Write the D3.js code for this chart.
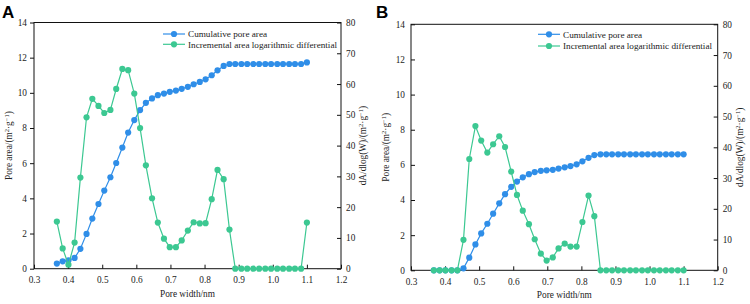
<!DOCTYPE html>
<html><head><meta charset="utf-8">
<script src="https://cdn.jsdelivr.net/npm/d3@7"></script>
<style>
html,body{margin:0;padding:0;background:#fff;}
svg{display:block;}
text{font-family:"Liberation Serif","Times New Roman",serif;fill:#222;}
text.plabel{font-family:"Liberation Sans",Arial,sans-serif;font-weight:bold;fill:#000;}
</style></head>
<body>
<svg id="chart" width="750" height="304"></svg>
<script>
const poreWidth = [0.367,0.384,0.401,0.419,0.436,0.454,0.471,0.489,0.506,0.524,0.541,0.559,0.576,0.594,0.611,0.628,0.646,0.663,0.681,0.698,0.716,0.733,0.751,0.768,0.786,0.803,0.821,0.838,0.856,0.873,0.890,0.908,0.925,0.943,0.960,0.978,0.995,1.013,1.030,1.048,1.065,1.083,1.100];

const cumulativeA = [0.29,0.42,0.48,0.61,1.13,1.98,2.85,3.68,4.44,5.2,6.01,6.89,7.74,8.45,9.02,9.43,9.68,9.87,9.96,10.06,10.13,10.23,10.34,10.49,10.62,10.77,11.0,11.28,11.53,11.64,11.64,11.64,11.64,11.64,11.64,11.64,11.64,11.64,11.64,11.64,11.64,11.64,11.73];
const incrementalA = [15.3,6.6,1.3,8.5,29.6,49.2,55.2,52.9,50.6,51.6,58.4,64.9,64.5,56.9,45.7,33.6,22.9,15.0,9.75,7.0,7.0,9.2,12.4,15.1,14.7,14.8,22.6,32.1,29.1,12.7,0,0,0,0,0,0,0,0,0,0,0,0,15.0];

const cumulativeB = [0,0,0,0,0,0.11,0.72,1.47,2.1,2.65,3.22,3.81,4.33,4.75,5.05,5.29,5.47,5.59,5.66,5.69,5.72,5.79,5.86,5.93,6.03,6.2,6.4,6.56,6.6,6.6,6.6,6.6,6.6,6.6,6.6,6.6,6.6,6.6,6.6,6.6,6.6,6.6,6.6];
const incrementalB = [0,0,0,0,0,9.9,36.2,46.9,42.2,38.3,41.0,43.6,40.1,32.1,24.5,19.4,15.0,10.1,5.4,3.15,4.2,7.1,8.7,7.7,7.7,15.7,24.3,17.6,0,0,0,0,0,0,0,0,0,0,0,0,0,0,0];

const xTicks = [0.3,0.4,0.5,0.6,0.7,0.8,0.9,1.0,1.1,1.2];
const leftTicks = [0,2,4,6,8,10,12,14];
const rightTicks = [0,10,20,30,40,50,60,70,80];
const seriesNames = ["Cumulative pore area","Incremental area logarithmic differential"];
const panelLabels = ["A","B"];

const BLUE = "#2f8ee8", GREEN = "#3cc892";
const svg = d3.select("#chart");
const FS = 9.3;

function panel(cfg, cum, inc, label){
  const g = svg.append("g");
  const x = d3.scaleLinear().domain([0.3,1.2]).range([cfg.left,cfg.right]);
  const yL = d3.scaleLinear().domain([0,14]).range([cfg.bottom,cfg.top]);
  const yR = d3.scaleLinear().domain([0,80]).range([cfg.bottom,cfg.top]);

  g.append("rect").attr("x",cfg.left).attr("y",cfg.top)
    .attr("width",cfg.right-cfg.left).attr("height",cfg.bottom-cfg.top)
    .attr("fill","none").attr("stroke","#111").attr("stroke-width",1);

  const xa = g.append("g").attr("transform",`translate(0,${cfg.bottom})`)
    .call(d3.axisBottom(x).tickValues(xTicks).tickFormat(d3.format(".1f")).tickSizeInner(-4).tickSizeOuter(0).tickPadding(8));
  xa.select(".domain").remove();
  xa.selectAll("text").attr("font-size",FS).attr("fill","#222");
  xa.selectAll("line").attr("stroke","#111");

  const la = g.append("g").attr("transform",`translate(${cfg.left},0)`)
    .call(d3.axisLeft(yL).tickValues(leftTicks).tickSizeInner(cfg.leftTickIn? -4 : 4).tickSizeOuter(0).tickPadding(cfg.leftTickIn? 6 : 3));
  la.select(".domain").remove();
  la.selectAll("text").attr("font-size",FS).attr("fill","#222");
  la.selectAll("line").attr("stroke","#111");

  const ra = g.append("g").attr("transform",`translate(${cfg.right},0)`)
    .call(d3.axisRight(yR).tickValues(rightTicks).tickSizeInner(-4).tickSizeOuter(0).tickPadding(5));
  ra.select(".domain").remove();
  ra.selectAll("text").attr("font-size",FS).attr("fill","#222");
  ra.selectAll("line").attr("stroke","#111");

  const midY = (cfg.top+cfg.bottom)/2;
  g.append("text").attr("x",(cfg.left+cfg.right)/2).attr("y",cfg.bottom+28)
    .attr("text-anchor","middle").attr("font-size",FS).text("Pore width/nm");
  const lt = g.append("text").attr("transform",`translate(${cfg.leftTitleX},${midY}) rotate(-90)`)
    .attr("text-anchor","middle").attr("font-size",FS);
  lt.append("tspan").text("Pore area/(m");
  lt.append("tspan").attr("font-size",6.5).attr("dy",-3.5).text("2");
  lt.append("tspan").attr("dy",3.5).text("·g");
  lt.append("tspan").attr("font-size",6.5).attr("dy",-3.5).text("−1");
  lt.append("tspan").attr("dy",3.5).text(")");
  const rt = g.append("text").attr("transform",`translate(${cfg.rightTitleX},${midY}) rotate(-90)`)
    .attr("text-anchor","middle").attr("font-size",FS);
  rt.append("tspan").text("dA/dlog(W)/(m");
  rt.append("tspan").attr("font-size",6.5).attr("dy",-3.5).text("2");
  rt.append("tspan").attr("dy",3.5).text("·g");
  rt.append("tspan").attr("font-size",6.5).attr("dy",-3.5).text("−1");
  rt.append("tspan").attr("dy",3.5).text(")");

  svg.append("text").attr("class","plabel").attr("x",cfg.labelX).attr("y",18)
    .attr("font-size",17).text(label);

  const lineL = d3.line().x((d,i)=>x(poreWidth[i])).y(d=>yL(d));
  const lineR = d3.line().x((d,i)=>x(poreWidth[i])).y(d=>yR(d));
  g.append("path").datum(cum).attr("d",lineL).attr("fill","none").attr("stroke",BLUE).attr("stroke-width",1.2);
  g.selectAll(".pb").data(cum).join("circle").attr("cx",(d,i)=>x(poreWidth[i])).attr("cy",d=>yL(d)).attr("r",3.1).attr("fill",BLUE);
  g.append("path").datum(inc).attr("d",lineR).attr("fill","none").attr("stroke",GREEN).attr("stroke-width",1.2);
  g.selectAll(".pg").data(inc).join("circle").attr("cx",(d,i)=>x(poreWidth[i])).attr("cy",d=>yR(d)).attr("r",3.1).attr("fill",GREEN);

  const colors = [BLUE, GREEN];
  seriesNames.forEach((name,k)=>{
    const ly = cfg.legY[k];
    g.append("line").attr("x1",cfg.legX).attr("x2",cfg.legX+22).attr("y1",ly).attr("y2",ly)
      .attr("stroke",colors[k]).attr("stroke-width",1.2);
    g.append("circle").attr("cx",cfg.legX+11).attr("cy",ly).attr("r",3.1).attr("fill",colors[k]);
    g.append("text").attr("x",cfg.legX+25).attr("y",ly+3.2).attr("font-size",9.2).text(name);
  });
}

panel({left:34,right:341,top:22.5,bottom:268.7,leftTitleX:12,rightTitleX:366,labelX:2,legX:163,legY:[34,44.3],leftTickIn:false},
  cumulativeA, incrementalA, panelLabels[0]);
panel({left:411,right:717.7,top:24.3,bottom:270.3,leftTitleX:389,rightTitleX:743,labelX:376,legX:538,legY:[34.3,46],leftTickIn:true},
  cumulativeB, incrementalB, panelLabels[1]);
</script>
</body></html>
